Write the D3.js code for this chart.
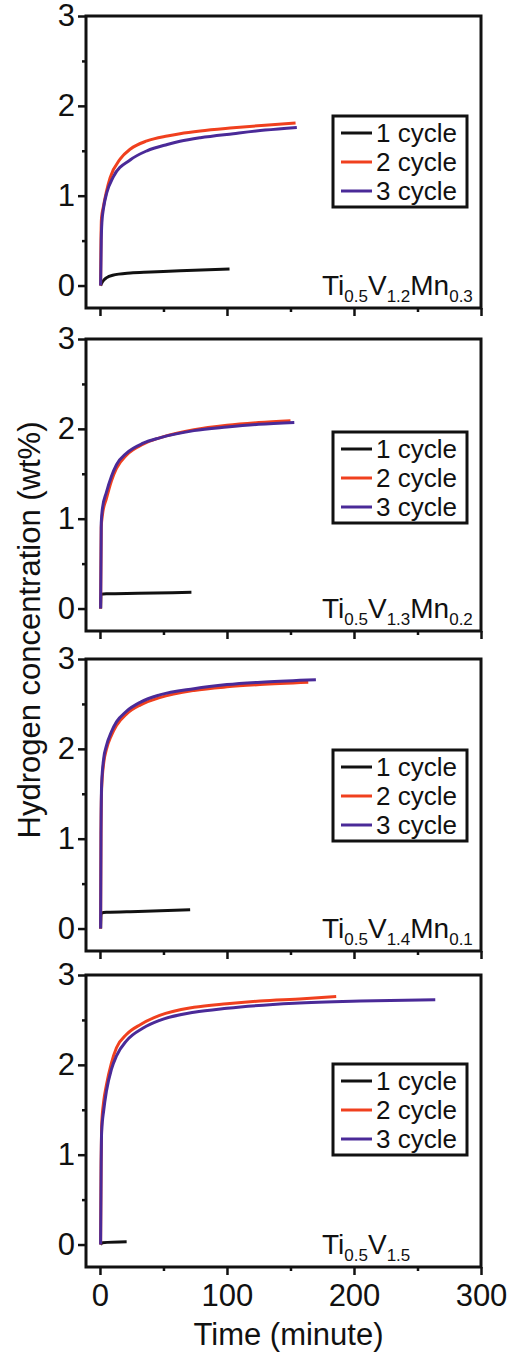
<!DOCTYPE html>
<html>
<head>
<meta charset="utf-8">
<script src="https://cdn.jsdelivr.net/npm/d3@7"></script>
<style>
  body { margin: 0; background: #fff; }
  text { font-family: 'Liberation Sans', Arial, sans-serif; fill: #111; }
</style>
</head>
<body>
<div id="chart"></div>
<script>
/* global d3 */

// ----------------------------------------
// Data (time in minutes, H in wt%)
// ----------------------------------------

var cycles = ['1 cycle', '2 cycle', '3 cycle']

// alloy labels as [element, subscript]
var alloy1 = [['Ti', '0.5'], ['V', '1.2'], ['Mn', '0.3']]
var alloy2 = [['Ti', '0.5'], ['V', '1.3'], ['Mn', '0.2']]
var alloy3 = [['Ti', '0.5'], ['V', '1.4'], ['Mn', '0.1']]
var alloy4 = [['Ti', '0.5'], ['V', '1.5']]

// Ti0.5V1.2Mn0.3
var p1c1 = [[0.5, 0], [1.5, 0.03], [3, 0.06], [5, 0.085], [10, 0.115], [24, 0.14], [40, 0.15], [63, 0.165], [102, 0.185]]
var p1c2 = [[0.5, 0], [0.8, 0.5], [1.2, 0.75], [2.6, 0.87], [5, 1.04], [8, 1.2], [16, 1.41], [24, 1.52], [37, 1.61], [53, 1.665], [63, 1.69], [79, 1.72], [105, 1.755], [130, 1.785], [154, 1.81]]
var p1c3 = [[0.5, 0], [1, 0.5], [1.5, 0.7], [3, 0.88], [5.3, 1.03], [10.5, 1.21], [24, 1.4], [37, 1.5], [53, 1.57], [63, 1.605], [79, 1.645], [105, 1.69], [130, 1.73], [155, 1.76]]

// Ti0.5V1.3Mn0.2
var p2c1 = [[0.5, 0], [0.8, 0.16], [5, 0.165], [30, 0.17], [72, 0.18]]
var p2c2 = [[0.5, 0], [1, 0.9], [2, 1.05], [5, 1.22], [9, 1.42], [13, 1.56], [21, 1.71], [34, 1.83], [47, 1.9], [74, 1.99], [100, 2.04], [125, 2.07], [150, 2.09]]
var p2c3 = [[0.5, 0], [1, 0.95], [2, 1.12], [5, 1.29], [9, 1.47], [13, 1.6], [21, 1.73], [34, 1.84], [47, 1.9], [74, 1.98], [100, 2.02], [125, 2.05], [153, 2.07]]

// Ti0.5V1.4Mn0.1
var p3c1 = [[0.5, 0], [0.9, 0.17], [5, 0.18], [30, 0.19], [71, 0.21]]
var p3c2 = [[0.5, 0], [0.8, 1.0], [1.3, 1.55], [3, 1.85], [5, 1.99], [9, 2.15], [13, 2.26], [21, 2.39], [32, 2.49], [47, 2.57], [74, 2.65], [100, 2.69], [126, 2.715], [164, 2.74]]
var p3c3 = [[0.5, 0], [0.8, 1.05], [1.3, 1.6], [3, 1.9], [5, 2.03], [9, 2.19], [13, 2.3], [21, 2.42], [32, 2.52], [47, 2.6], [74, 2.67], [100, 2.715], [130, 2.745], [170, 2.77]]

// Ti0.5V1.5
var p4c1 = [[0.5, 0], [2, 0.02], [21, 0.03]]
var p4c2 = [[0.5, 0], [0.9, 0.9], [1.3, 1.32], [3, 1.6], [5, 1.77], [9, 2.02], [13, 2.19], [21, 2.34], [32, 2.45], [47, 2.55], [74, 2.64], [100, 2.68], [126, 2.71], [160, 2.735], [186, 2.76]]
var p4c3 = [[0.5, 0], [0.9, 0.85], [1.3, 1.25], [3, 1.5], [5, 1.7], [9, 1.95], [13, 2.1], [21, 2.27], [34, 2.41], [47, 2.495], [74, 2.585], [100, 2.63], [153, 2.685], [205, 2.71], [264, 2.725]]

var xTicks = [0, 100, 200, 300]
var xMinor = [50, 150, 250]
var yTicks = [0, 1, 2, 3]
var yMinor = [0.5, 1.5, 2.5]

var panels = [
  { alloy: alloy1, series: [p1c1, p1c2, p1c3] },
  { alloy: alloy2, series: [p2c1, p2c2, p2c3] },
  { alloy: alloy3, series: [p3c1, p3c2, p3c3] },
  { alloy: alloy4, series: [p4c1, p4c2, p4c3] }
]

// ----------------------------------------
// Layout
// ----------------------------------------

var width = 511
var height = 1353
var colors = ['#111111', '#f0401e', '#4a2a98']

var left = 86
var right = 481
var panelH = 292
var panelTop = [16, 339, 659, 975]
var legendOff = [100, 93, 91, 89]

var svg = d3.select('#chart').append('svg')
  .attr('width', width)
  .attr('height', height)

var x = d3.scaleLinear().domain([-11, 300]).range([left, right])

var line = d3.line()
  .x(d => x(d[0]))
  .y(d => d[2])
  .curve(d3.curveMonotoneX)

panels.forEach(function (p, i) {
  var top = panelTop[i]
  var y = d3.scaleLinear().domain([-0.25, 3]).range([top + panelH, top])
  var g = svg.append('g').attr('class', 'panel')

  // curves
  p.series.forEach(function (s, k) {
    g.append('path')
      .datum(s.map(d => [d[0], d[1], y(d[1])]))
      .attr('d', line)
      .attr('fill', 'none')
      .attr('stroke', colors[k])
      .attr('stroke-width', 3)
      .attr('stroke-linejoin', 'round')
  })

  // frame
  g.append('rect')
    .attr('x', left)
    .attr('y', top)
    .attr('width', right - left)
    .attr('height', panelH)
    .attr('fill', 'none')
    .attr('stroke', '#111')
    .attr('stroke-width', 3)

  // y axis
  var yAxis = g.append('g')
    .attr('transform', 'translate(' + left + ',0)')
    .call(d3.axisLeft(y).tickValues(yTicks).tickSize(8).tickPadding(3).tickFormat(d3.format('d')))
  yAxis.append('g')
    .call(d3.axisLeft(y).tickValues(yMinor).tickSize(4).tickFormat(''))

  // x axis
  var xAxis = g.append('g')
    .attr('transform', 'translate(0,' + (top + panelH) + ')')
    .call(d3.axisBottom(x).tickValues(xTicks).tickSize(8).tickPadding(9)
      .tickFormat(i === 3 ? d3.format('d') : ''))
  xAxis.append('g')
    .call(d3.axisBottom(x).tickValues(xMinor).tickSize(4).tickFormat(''))

  g.selectAll('.domain').remove()
  g.selectAll('.tick line').attr('stroke', '#111').attr('stroke-width', 2.5)
  g.selectAll('.tick text')
    .style('font-size', '31px')
    .style('font-family', "'Liberation Sans', Arial, sans-serif")
    .attr('fill', '#111')

  // legend
  var ly = top + legendOff[i]
  var legend = g.append('g').attr('transform', 'translate(333,' + ly + ')')
  legend.append('rect')
    .attr('width', 134)
    .attr('height', 91)
    .attr('fill', '#fff')
    .attr('stroke', '#111')
    .attr('stroke-width', 3)
  cycles.forEach(function (c, k) {
    var cy = 17 + k * 29
    legend.append('line')
      .attr('x1', 8).attr('x2', 39)
      .attr('y1', cy).attr('y2', cy)
      .attr('stroke', colors[k])
      .attr('stroke-width', 3)
    legend.append('text')
      .attr('x', 43)
      .attr('y', cy)
      .attr('dy', '.36em')
      .style('font-size', '26px')
      .text(c)
  })

  // alloy name with subscripts
  var name = g.append('text')
    .attr('x', 322)
    .attr('y', top + 279)
    .style('font-size', '28px')
  p.alloy.forEach(function (a, j) {
    name.append('tspan').attr('dy', j === 0 ? 0 : -7).text(a[0])
    name.append('tspan').attr('dy', 7).style('font-size', '17px').text(a[1])
  })
})

// axis titles
svg.append('text')
  .attr('transform', 'translate(40,630) rotate(-90)')
  .attr('text-anchor', 'middle')
  .style('font-size', '31px')
  .text('Hydrogen concentration (wt%)')

svg.append('text')
  .attr('x', x(150) - 2)
  .attr('y', 1345)
  .attr('text-anchor', 'middle')
  .style('font-size', '31px')
  .text('Time (minute)')
</script>
</body>
</html>
